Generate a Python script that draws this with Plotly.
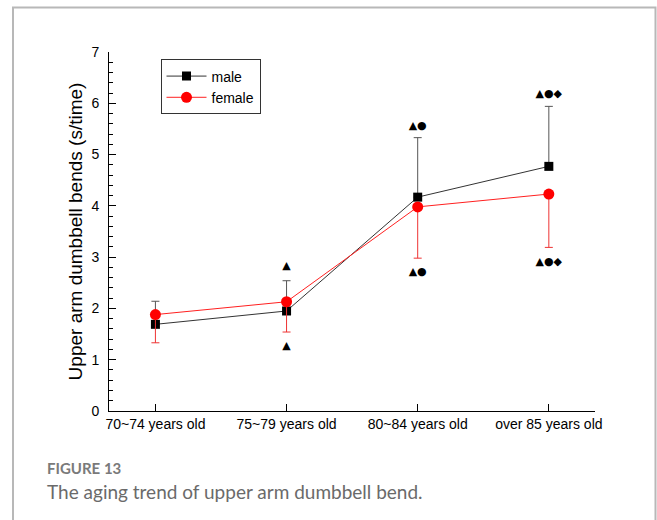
import plotly.graph_objects as go

# Age groups and mean values (s/time)
categories = ["70~74 years old", "75~79 years old", "80~84 years old", "over 85 years old"]
male_mean = [1.69, 1.95, 4.17, 4.77]
female_mean = [1.88, 2.13, 3.98, 4.23]
# Standard deviations: male drawn upward, female drawn downward
male_sd = [0.45, 0.59, 1.16, 1.17]
female_sd = [0.55, 0.59, 1.00, 1.04]

# Significance symbols above and below each group
sig_upper_text = ["", "▲", "▲●", "▲●◆"]
sig_upper_y = [None, 2.82, 5.55, 6.17]
sig_lower_text = ["", "▲", "▲●", "▲●◆"]
sig_lower_y = [None, 1.27, 2.70, 2.91]

fig = go.Figure()

fig.add_trace(go.Scatter(
    x=categories, y=male_mean, name="male", mode="lines+markers",
    line=dict(color="#333333", width=1),
    marker=dict(symbol="square", size=9, color="black"),
    error_y=dict(type="data", symmetric=False, array=male_sd,
                 arrayminus=[0] * len(male_sd), color="#555555",
                 thickness=1, width=4),
))
fig.add_trace(go.Scatter(
    x=categories, y=female_mean, name="female", mode="lines+markers",
    line=dict(color="#ff2020", width=1),
    marker=dict(symbol="circle", size=11, color="#ff0000"),
    error_y=dict(type="data", symmetric=False, array=[0] * len(female_sd),
                 arrayminus=female_sd, color="#ee3333",
                 thickness=1, width=4),
))

for texts, ys in ((sig_upper_text, sig_upper_y), (sig_lower_text, sig_lower_y)):
    xs = [c for c, t in zip(categories, texts) if t]
    yv = [y for y, t in zip(ys, texts) if t]
    tv = [t for t in texts if t]
    fig.add_trace(go.Scatter(
        x=xs, y=yv, text=tv, mode="text", showlegend=False,
        textposition="middle center", hoverinfo="skip",
        textfont=dict(family="DejaVu Sans", size=11, color="black"),
    ))

L, R, T, B = 109, 62, 51.5, 109
W, H = 657, 520
pw, ph = W - L - R, H - T - B

def px_x(p):
    return (p - L) / pw

def px_y(p):
    return (H - B - p) / ph

fig.update_layout(
    width=W, height=H,
    margin=dict(l=L, r=R, t=T, b=B, pad=0),
    paper_bgcolor="white", plot_bgcolor="white",
    font=dict(family="Liberation Sans, Arial, sans-serif", color="black"),
    showlegend=True,
    legend=dict(
        x=px_x(160.5), y=px_y(59), xanchor="left", yanchor="top",
        bordercolor="#333333", borderwidth=1, bgcolor="white",
        font=dict(size=14, family="Liberation Sans, Arial, sans-serif"),
        tracegroupgap=0, itemwidth=40,
    ),
    xaxis=dict(
        type="category", categoryorder="array", categoryarray=categories,
        range=[-0.354, 3.352], showline=True, linecolor="black", linewidth=1,
        ticks="inside", ticklen=7, tickcolor="black", tickwidth=1,
        showgrid=False, zeroline=False,
        tickfont=dict(size=14, family="Liberation Sans, Arial, sans-serif"),
    ),
    yaxis=dict(
        range=[0, 7], tickmode="linear", tick0=0, dtick=1,
        showline=True, linecolor="black", linewidth=1,
        ticks="inside", ticklen=7, tickcolor="black", tickwidth=1,
        ticklabelstandoff=6,
        minor=dict(ticks="inside", ticklen=4, dtick=0.2, tick0=0,
                   tickcolor="black", tickwidth=1, showgrid=False),
        showgrid=False, zeroline=False,
        tickfont=dict(size=14, family="Liberation Sans, Arial, sans-serif"),
        title=dict(text="Upper arm dumbbell bends (s/time)", standoff=3,
                   font=dict(size=19, family="Liberation Sans, Arial, sans-serif")),
    ),
)

# Outer frame around figure and caption
fig.add_shape(type="rect", xref="paper", yref="paper",
              x0=px_x(13), x1=px_x(655.5), y0=px_y(540), y1=px_y(7),
              line=dict(color="#b8b8b8", width=2), fillcolor="rgba(0,0,0,0)",
              layer="below")

fig.add_annotation(xref="paper", yref="paper", x=px_x(46), y=px_y(478),
                   xanchor="left", yanchor="bottom", showarrow=False,
                   text="<b>FIGURE 13</b>", borderpad=0,
                   font=dict(family="Lato, Open Sans, sans-serif", size=15, color="#7a7a7a"))
fig.add_annotation(xref="paper", yref="paper", x=px_x(46), y=px_y(479),
                   xanchor="left", yanchor="top", showarrow=False,
                   text="The aging trend of upper arm dumbbell bend.", borderpad=0,
                   font=dict(family="Lato, Open Sans, sans-serif", size=19, color="#6a6a6a"))

fig.write_html("out.html")
